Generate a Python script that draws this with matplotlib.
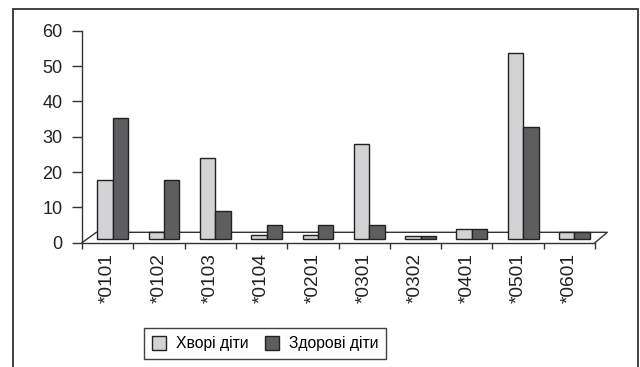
import matplotlib
matplotlib.use("Agg")
import matplotlib.pyplot as plt
from matplotlib import font_manager
from matplotlib.patches import Rectangle, Patch
from matplotlib.lines import Line2D
from matplotlib.transforms import ScaledTranslation
import numpy as np

categories = ["*0101", "*0102", "*0103", "*0104", "*0201", "*0301", "*0302", "*0401", "*0501", "*0601"]
sick = [16.6, 1.9, 22.8, 1.0, 1.0, 26.9, 0.9, 2.9, 52.7, 1.9]
healthy = [34.3, 16.8, 7.9, 3.9, 3.9, 3.9, 0.9, 2.9, 31.7, 1.9]
series_names = ["Хворі діти", "Здорові діти"]
yticks = [0, 10, 20, 30, 40, 50, 60]

tick_font = "Liberation Sans"
legend_font = "Liberation Sans"

W, H = 640, 367
fig = plt.figure(figsize=(W / 100, H / 100), dpi=100)

def fx(px):
    return px / W

def fy(py):
    return (H - py) / H

x0, x1 = 82.0, 595.0
y0, y1 = 242.7, 30.7
ax = fig.add_axes([fx(x0), fy(y0), fx(x1) - fx(x0), fy(y1) - fy(y0)])
ax.set_xlim(0, len(categories))
ax.set_ylim(0, 60)
ax.patch.set_visible(False)

axcol = "#333333"
for s in ["top", "right"]:
    ax.spines[s].set_visible(False)
for s in ["left", "bottom"]:
    ax.spines[s].set_color(axcol)
    ax.spines[s].set_linewidth(1.0)

# bars sit on the pseudo-3D floor: shifted up a little
off = ScaledTranslation(0.0, 3.7 / 100, fig.dpi_scale_trans)
bar_tr = ax.transData + off
idx = np.arange(len(categories))
bw = 0.3
light = "#d3d3d5"
dark = "#5e5e60"
edge = "#222222"

# floor outline (drawn behind bars)
floor_l = ScaledTranslation(14.3 / 100, 10.4 / 100, fig.dpi_scale_trans)
floor_r = ScaledTranslation(12.3 / 100, 10.4 / 100, fig.dpi_scale_trans)
pl = (ax.transData + floor_l).transform((0, 0))
pr = (ax.transData + floor_r).transform((len(categories), 0))
fl = ax.transData.transform((0, 0))
fr = ax.transData.transform((len(categories), 0))
inv = fig.transFigure.inverted()
pts = inv.transform(np.array([fl, pl, pr, fr]))
fig.add_artist(Line2D(pts[:, 0], pts[:, 1], color=axcol, lw=1.0, transform=fig.transFigure, zorder=-1))

ax.bar(idx + 0.6 - bw / 2, sick, width=bw, color=light, edgecolor=edge, linewidth=1.0,
       transform=bar_tr, clip_on=False, zorder=3, label=series_names[0])
ax.bar(idx + 0.6 + bw / 2, healthy, width=bw, color=dark, edgecolor=edge, linewidth=1.0,
       transform=bar_tr, clip_on=False, zorder=3, label=series_names[1])

ax.set_yticks(yticks)
ax.set_yticklabels([str(v) for v in yticks], fontsize=13, fontfamily=tick_font, color="#222222")
ax.tick_params(axis="y", direction="out", length=7.2, width=1.0, color=axcol, pad=7)

ax.set_xticks(idx + 0.5)
ax.set_xticklabels(categories, rotation=90, fontsize=13.8, fontfamily=tick_font, color="#222222")
ax.tick_params(axis="x", which="major", length=0, pad=7.5)
ax.set_xticks(np.arange(len(categories) + 1), minor=True)
ax.tick_params(axis="x", which="minor", direction="out", length=4, width=1.0, color=axcol)

handles = [Patch(facecolor=light, edgecolor=edge, linewidth=1.0),
           Patch(facecolor=dark, edgecolor=edge, linewidth=1.0)]
leg = fig.legend(handles, series_names, loc="center", bbox_to_anchor=(fx(265.3), fy(343.7)),
                 ncol=2, frameon=True, fancybox=False, edgecolor="#111111",
                 prop={"family": legend_font, "size": 11.3},
                 handlelength=0.9, handleheight=0.95, handletextpad=0.65,
                 columnspacing=1.0, borderpad=0.5, borderaxespad=0)
leg.get_frame().set_linewidth(1.0)

fig.add_artist(Rectangle((fx(12.7), -0.1), fx(638) - fx(12.7), fy(9.3) + 0.1, fill=False,
                         transform=fig.transFigure, lw=1.3, ec="#333333", clip_on=False))

fig.savefig("out.png", dpi=100)
